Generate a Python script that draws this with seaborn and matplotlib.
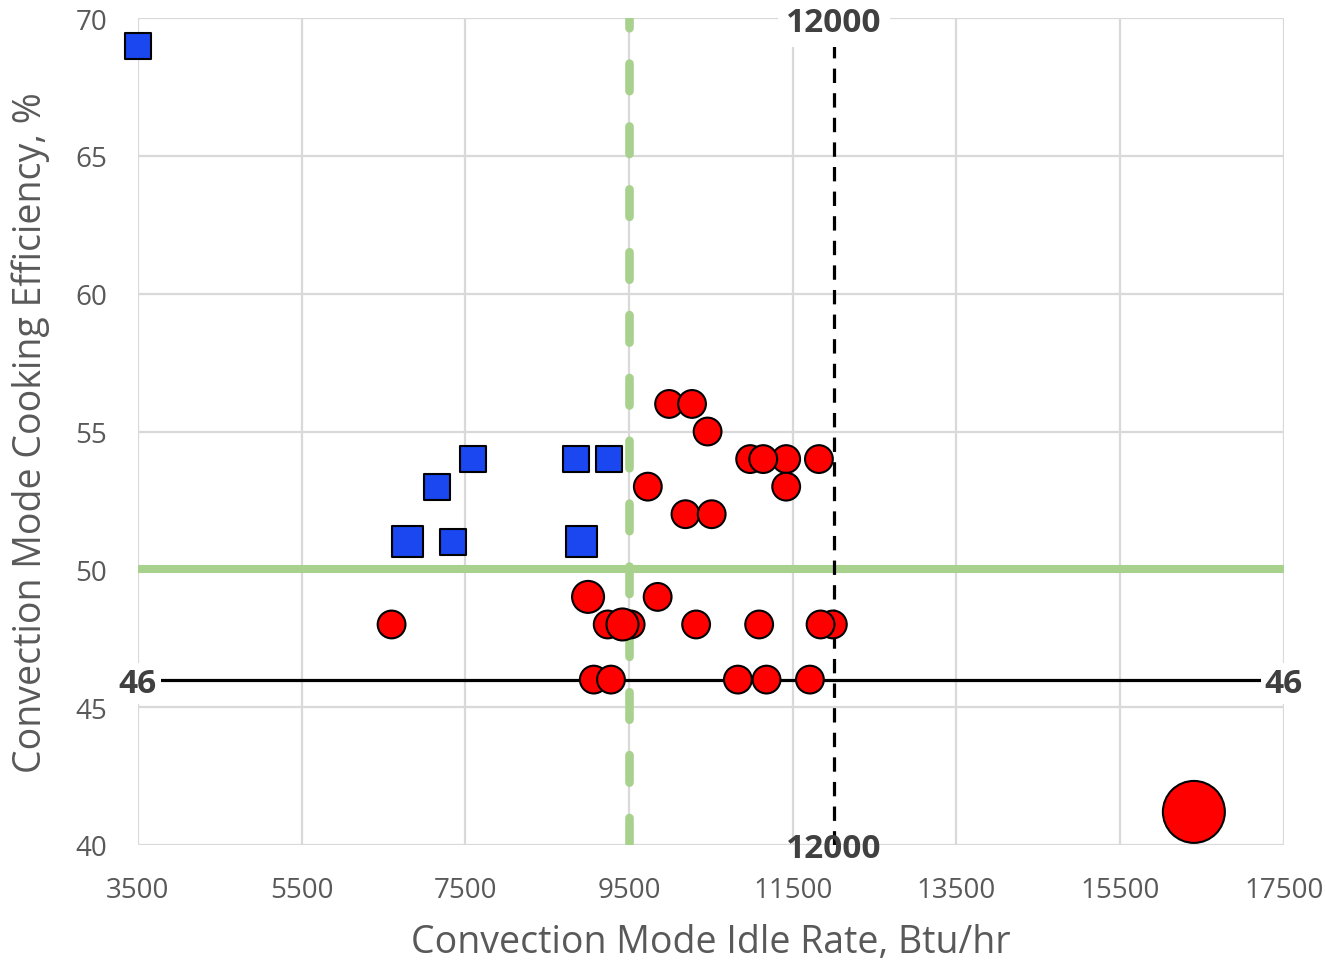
import matplotlib
matplotlib.use("Agg")
import matplotlib.pyplot as plt
import seaborn as sns
import pandas as pd

# Convection-mode performance of tested ovens
blue_idle = [3500, 6800, 7150, 7350, 7600, 8850, 9250, 8920]
blue_eff = [69, 51, 53, 51, 54, 54, 54, 51]
blue_size = ["std", "large", "std", "std", "std", "std", "std", "large"]

red_idle = [6600, 9000, 9850, 9240, 9520, 9420, 10320, 11090, 11990, 11840,
            9070, 9280, 10830, 11180, 11710,
            9990, 10270, 10460, 10980, 11140, 11420, 11820, 11420, 9730,
            10190, 10510, 16400]
red_eff = [48, 49, 49, 48, 48, 48, 48, 48, 48, 48,
           46, 46, 46, 46, 46,
           56, 56, 55, 54, 54, 54, 54, 53, 53,
           52, 52, 41.2]
red_size = ["std", "large", "std", "std", "std", "large", "std", "std", "std", "std",
            "std", "std", "std", "std", "std",
            "std", "std", "std", "std", "std", "std", "std", "std", "std",
            "std", "std", "xl"]

x_ticks = [3500, 5500, 7500, 9500, 11500, 13500, 15500, 17500]
y_ticks = [40, 45, 50, 55, 60, 65, 70]

idle_limit = 12000      # black dashed reference
eff_limit = 46          # black solid reference
idle_target = 9500      # green dashed reference
eff_target = 50         # green solid reference

x_label = "Convection Mode Idle Rate, Btu/hr"
y_label = "Convection Mode Cooking Efficiency, %"

sns.set_theme(style="white")
plt.rcParams["font.family"] = ["Open Sans", "DejaVu Sans"]

fig = plt.figure(figsize=(13.25, 9.62), dpi=100)
ax = fig.add_axes([0.104, 0.1206, 0.865, 0.8596])

ax.set_xlim(3500, 17500)
ax.set_ylim(40, 70)
ax.set_xticks(x_ticks)
ax.set_yticks(y_ticks)
ax.grid(True, color="#d9d9d9", linewidth=1.6, zorder=0)
ax.set_axisbelow(True)
for side, sp in ax.spines.items():
    sp.set_visible(False)
ax.axhline(40, color="#bfbfbf", linewidth=1.8, zorder=0.5)

# reference lines
ax.axhline(eff_target, color="#a9d18e", linewidth=5.8, zorder=1)
green_dash = ax.axvline(idle_target, color="#a9d18e", linewidth=6.2,
                        dashes=(3.2, 4.1), dash_capstyle="round", zorder=1)
ax.axvline(idle_limit, color="black", linewidth=2.3, dashes=(4.5, 3.2), zorder=1.2)
ax.axhline(eff_limit, color="black", linewidth=2.3, zorder=1.2)

circle_sizes = {"std": 400, "large": 530, "xl": 1990}
square_sizes = {"std": 350, "large": 500}

blue = pd.DataFrame({"idle": blue_idle, "eff": blue_eff, "sz": blue_size})
red = pd.DataFrame({"idle": red_idle, "eff": red_eff, "sz": red_size})
# draw the larger overlapping points last within their clusters
red["order"] = [0, 2, 0, 0, 1, 3, 0, 0, 0, 1,
                0, 1, 0, 0, 0,
                0, 1, 0, 0, 1, 0, 0, 0, 0,
                0, 0, 0]
red = red.sort_values("order", kind="stable")

sns.scatterplot(data=blue, x="idle", y="eff", size="sz", sizes=square_sizes,
                marker="s", color="#1a47ef", edgecolor="black", linewidth=1.5,
                legend=False, ax=ax, zorder=3, clip_on=False)
sns.scatterplot(data=red, x="idle", y="eff", size="sz", sizes=circle_sizes,
                marker="o", color="#ff0000", edgecolor="black", linewidth=1.5,
                legend=False, ax=ax, zorder=3, clip_on=False)

ax.tick_params(axis="both", length=0, labelsize=20, colors="#595959")
ax.tick_params(axis="x", pad=22)
ax.tick_params(axis="y", pad=22)
ax.set_xlabel(x_label, fontsize=27, color="#595959", labelpad=14)
ax.set_ylabel(y_label, fontsize=27, color="#595959", labelpad=18)

lab_kw = dict(fontsize=24, fontweight="bold", color="#404040", zorder=5)
box = dict(facecolor="white", edgecolor="none", pad=6)
ax.text(idle_limit, 70, f"{idle_limit}", ha="center", va="center_baseline",
        bbox=box, **lab_kw)
ax.text(idle_limit, 40, f"{idle_limit}", ha="center", va="center_baseline", **lab_kw)
ax.text(3500, eff_limit, f"{eff_limit}", ha="center", va="center_baseline",
        bbox=dict(facecolor="white", edgecolor="none", pad=3), **lab_kw)
ax.text(17500, eff_limit, f"{eff_limit}", ha="center", va="center_baseline",
        bbox=dict(facecolor="white", edgecolor="none", pad=3), **lab_kw)

fig.savefig("out.png", dpi=100)
